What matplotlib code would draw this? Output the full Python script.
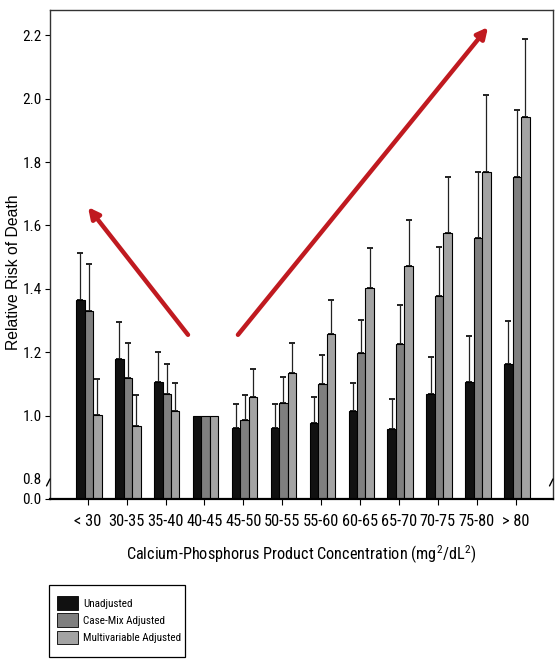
import numpy as np
import matplotlib
matplotlib.use("Agg")
import matplotlib.pyplot as plt
from matplotlib import font_manager
from matplotlib.patches import Patch, Rectangle

categories = ["< 30", "30-35", "35-40", "40-45", "45-50", "50-55", "55-60",
              "60-65", "65-70", "70-75", "75-80", "> 80"]
series_names = ["Unadjusted", "Case-Mix Adjusted", "Multivariable Adjusted"]
unadjusted = [1.365, 1.178, 1.106, 1.0, 0.960, 0.960, 0.978, 1.015, 0.957, 1.068, 1.105, 1.163]
unadjusted_upper = [1.514, 1.296, 1.202, 1.0, 1.037, 1.037, 1.060, 1.104, 1.052, 1.184, 1.252, 1.298]
casemix = [1.330, 1.119, 1.068, 1.0, 0.985, 1.039, 1.099, 1.197, 1.226, 1.379, 1.562, 1.754]
casemix_upper = [1.478, 1.228, 1.162, 1.0, 1.065, 1.123, 1.190, 1.302, 1.348, 1.533, 1.770, 1.964]
multivar = [1.002, 0.968, 1.013, 1.0, 1.060, 1.136, 1.257, 1.402, 1.472, 1.575, 1.770, 1.943]
multivar_upper = [1.116, 1.066, 1.102, 1.0, 1.146, 1.228, 1.365, 1.528, 1.617, 1.754, 2.013, 2.187]
y_ticks = [0.0, 0.8, 1.0, 1.2, 1.4, 1.6, 1.8, 2.0, 2.2]
y_ticklabels = ["0.0", "0.8", "1.0", "1.2", "1.4", "1.6", "1.8", "2.0", "2.2"]

# pick a condensed font if one is installed
narrow_font = None
for cand in ["Liberation Sans Narrow", "Roboto Condensed", "Open Sans Condensed", "Arial Narrow"]:
    try:
        font_manager.findfont(font_manager.FontProperties(family=cand), fallback_to_default=False)
        narrow_font = cand
        break
    except Exception:
        pass

REG = ["Liberation Sans", "DejaVu Sans"]
if narrow_font:
    NARROW = [narrow_font, "Liberation Sans", "DejaVu Sans"]
    sc = 1.0
else:
    NARROW = REG
    sc = 0.86
plt.rcParams["font.family"] = NARROW
plt.rcParams["mathtext.fontset"] = "custom"
plt.rcParams["mathtext.rm"] = NARROW[0]

BREAK = 0.8
K = 0.079


def fwd(y):
    y = np.asarray(y, dtype=float)
    return np.where(y >= BREAK, y, BREAK - (BREAK - y) * K)


def inv(u):
    u = np.asarray(u, dtype=float)
    return np.where(u >= BREAK, u, BREAK - (BREAK - u) / K)


fig = plt.figure(figsize=(5.55, 6.6), dpi=100)
ax = fig.add_axes([50 / 555, 1 - 499 / 660, 503 / 555, 489 / 660])
ax.set_yscale("function", functions=(fwd, inv))

x = np.arange(len(categories))
w = 0.218
colors = ["#111111", "#7f7f7f", "#a3a3a3"]
vals = [unadjusted, casemix, multivar]
uppers = [unadjusted_upper, casemix_upper, multivar_upper]
for i, (v, up, c) in enumerate(zip(vals, uppers, colors)):
    xp = x + (i - 1) * w + 0.03
    ax.bar(xp, v, width=w, bottom=0, color=c, edgecolor="black", linewidth=0.8, zorder=2)
    v = np.array(v)
    up = np.array(up)
    err = up - v
    mask = err > 0
    ax.errorbar(xp[mask], v[mask], yerr=[np.zeros(mask.sum()), err[mask]], fmt="none",
                ecolor="#222222", elinewidth=0.9, capsize=2.5, capthick=1.4, zorder=1)

ax.set_xlim(-0.972, 11.96)
ax.set_ylim(0.0, 2.28)
ax.set_yticks(y_ticks)
ax.set_yticklabels(y_ticklabels)
ax.set_xticks(x)
ax.set_xticklabels(categories)
ax.tick_params(axis="y", direction="out", length=3.5, pad=2.5, labelsize=11 * sc)
ax.tick_params(axis="x", direction="out", length=4, pad=7, labelsize=11.8 * sc)
ax.yaxis.get_major_ticks()[1].tick1line.set_visible(False)
for s in ax.spines.values():
    s.set_linewidth(1.0)
    s.set_color("#333333")
ax.spines["bottom"].set_linewidth(1.6)
ax.spines["bottom"].set_color("black")

# axis break marks
for xa in (0.0, 1.0):
    ax.annotate("", xy=(xa, 0.8), xytext=(-2.5, -5),
                xycoords=("axes fraction", "data"), textcoords="offset points",
                arrowprops=dict(arrowstyle="-", lw=1.0, color="black", shrinkA=0, shrinkB=0),
                annotation_clip=False)

# red arrows
red = "#c01a20"
ax.annotate("", xy=(0.005, 1.658), xytext=(2.576, 1.255),
            arrowprops=dict(arrowstyle="-|>", color=red, lw=3.2, mutation_scale=16, shrinkA=0, shrinkB=0))
ax.annotate("", xy=(10.29, 2.226), xytext=(3.86, 1.255),
            arrowprops=dict(arrowstyle="-|>", color=red, lw=3.2, mutation_scale=16, shrinkA=0, shrinkB=0))

fig.text(301 / 555, 1 - 555 / 660, r"Calcium-Phosphorus Product Concentration (mg$^{\mathrm{2}}$/dL$^{\mathrm{2}}$)",
         ha="center", va="center", fontsize=(11.7 if narrow_font else 11.0))
fig.text(14 / 555, 1 - 272 / 660, "Relative Risk of Death", rotation=90, ha="center", va="center",
         fontsize=11.3, family=REG)

lfs = 8.0 * sc
handles = [Patch(facecolor=c, edgecolor="black", linewidth=0.6) for c in colors]
fig.add_artist(Rectangle((49 / 555, 1 - 657 / 660), 136 / 555, 72 / 660, transform=fig.transFigure,
                         fill=False, edgecolor="black", linewidth=0.9))
fs_px = lfs * 100 / 72
fig.legend(handles, series_names, loc="upper left", bbox_to_anchor=(56 / 555, 1 - 595 / 660),
           frameon=False, fontsize=lfs, handlelength=21 / fs_px, handleheight=17 / fs_px,
           labelspacing=3.5 / fs_px, handletextpad=5 / fs_px, borderpad=0.1, borderaxespad=0)

fig.savefig("out.png", dpi=100)
